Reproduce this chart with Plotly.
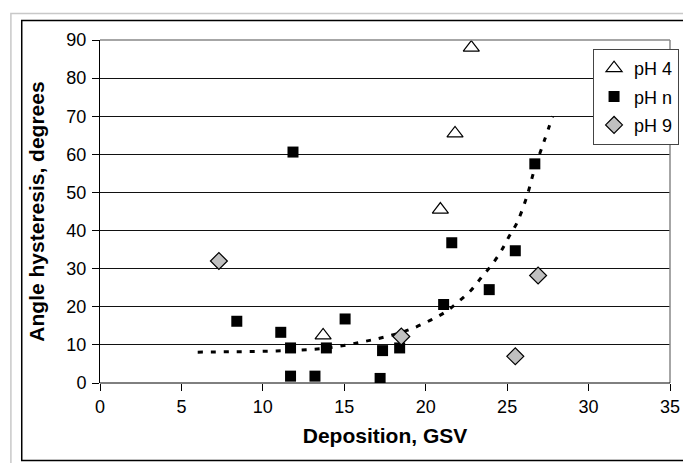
import plotly.graph_objects as go

# pH 4 series (open triangles)
ph4_x = [13.7, 20.9, 21.8, 22.8]
ph4_y = [12.5, 45.5, 65.5, 88.0]

# pH n series (black squares)
phn_x = [11.85, 8.4, 11.1, 11.7, 11.7, 13.2, 13.9, 15.05, 17.2, 17.35, 18.4, 21.1, 21.6, 23.9, 25.5, 26.7]
phn_y = [60.6, 16.2, 13.3, 9.2, 1.8, 1.8, 9.2, 16.8, 1.2, 8.5, 9.2, 20.6, 36.8, 24.5, 34.7, 57.5]

# pH 9 series (grey diamonds)
ph9_x = [7.3, 18.5, 25.5, 26.9]
ph9_y = [32.0, 12.2, 7.0, 28.2]

# trend line
trend_x = [6, 8, 10, 12, 14, 16, 17.5, 19, 20.3, 21.2, 22, 22.8, 23.4, 24, 24.6, 25.1, 25.6, 26.2, 26.7, 27.3, 27.8]
trend_y = [8.1, 8.2, 8.3, 8.6, 9.2, 10.7, 12.1, 14.0, 16.5, 18.6, 21.3, 24.4, 27.6, 30.7, 34.4, 38.3, 42.0, 48.8, 56.4, 63.8, 70.0]

x_ticks = [0, 5, 10, 15, 20, 25, 30, 35]
y_ticks = [0, 10, 20, 30, 40, 50, 60, 70, 80, 90]

FONT = "Liberation Sans, Arial, sans-serif"

fig = go.Figure()

fig.add_trace(go.Scatter(
    x=trend_x, y=trend_y, mode="lines", showlegend=False,
    line=dict(color="black", width=3, dash="5px,8px", shape="spline"),
    hoverinfo="skip"))

fig.add_trace(go.Scatter(
    x=ph4_x, y=ph4_y, mode="markers", name="pH 4", legendgroup="a",
    marker=dict(symbol="triangle-up", size=14, color="white",
                line=dict(color="black", width=1.2))))

fig.add_trace(go.Scatter(
    x=phn_x, y=phn_y, mode="markers", name="pH n", legendgroup="b",
    marker=dict(symbol="square", size=11, color="black",
                line=dict(color="black", width=0))))

fig.add_trace(go.Scatter(
    x=ph9_x, y=ph9_y, mode="markers", name="pH 9", legendgroup="c",
    marker=dict(symbol="diamond", size=13, color="#c0c0c0",
                line=dict(color="black", width=1.2))))

fig.update_layout(
    width=683, height=455,
    margin=dict(l=92, r=12, t=32, b=80),
    paper_bgcolor="white", plot_bgcolor="white",
    font=dict(family=FONT, size=18, color="black"),
    legend=dict(x=0.865, y=0.974, xanchor="left", yanchor="top",
                bgcolor="white", bordercolor="#444", borderwidth=1,
                font=dict(family=FONT, size=18),
                itemwidth=30, tracegroupgap=2),
    xaxis=dict(range=[0, 35], tickvals=x_ticks, ticktext=[str(v) for v in x_ticks],
               showgrid=False, zeroline=False, showline=False,
               ticks="outside", ticklen=7, tickcolor="black",
               title=dict(text="<b>Deposition, GSV</b>", standoff=12,
                          font=dict(family=FONT, size=21))),
    yaxis=dict(range=[0, 90], tickvals=y_ticks, ticktext=[str(v) for v in y_ticks],
               showgrid=True, gridcolor="#111", gridwidth=1,
               zeroline=False, showline=True, linecolor="black", linewidth=1,
               ticks="outside", ticklen=7, tickcolor="black",
               ticklabelstandoff=2,
               title=dict(text="<b>Angle hysteresis, degrees</b>", standoff=16,
                          font=dict(family=FONT, size=21))),
    shapes=[
        dict(type="line", xref="paper", yref="paper", x0=1, x1=1, y0=0, y1=1,
             line=dict(color="#888", width=1.5)),
        dict(type="line", xref="paper", yref="paper", x0=0, x1=1, y0=1, y1=1,
             line=dict(color="#888", width=1.5)),
        dict(type="line", xref="paper", yref="paper", x0=0, x1=1, y0=0, y1=0,
             line=dict(color="black", width=1)),
        dict(type="rect", xref="paper", yref="paper",
             x0=-0.1563, x1=1.1, y0=-0.3, y1=1.0773,
             line=dict(color="#c8c8c8", width=1.5), layer="below"),
        dict(type="rect", xref="paper", yref="paper",
             x0=-0.1373, x1=1.05, y0=-0.226, y1=1.0569,
             line=dict(color="black", width=1.5), layer="below"),
    ],
)

fig.write_html("out.html")
